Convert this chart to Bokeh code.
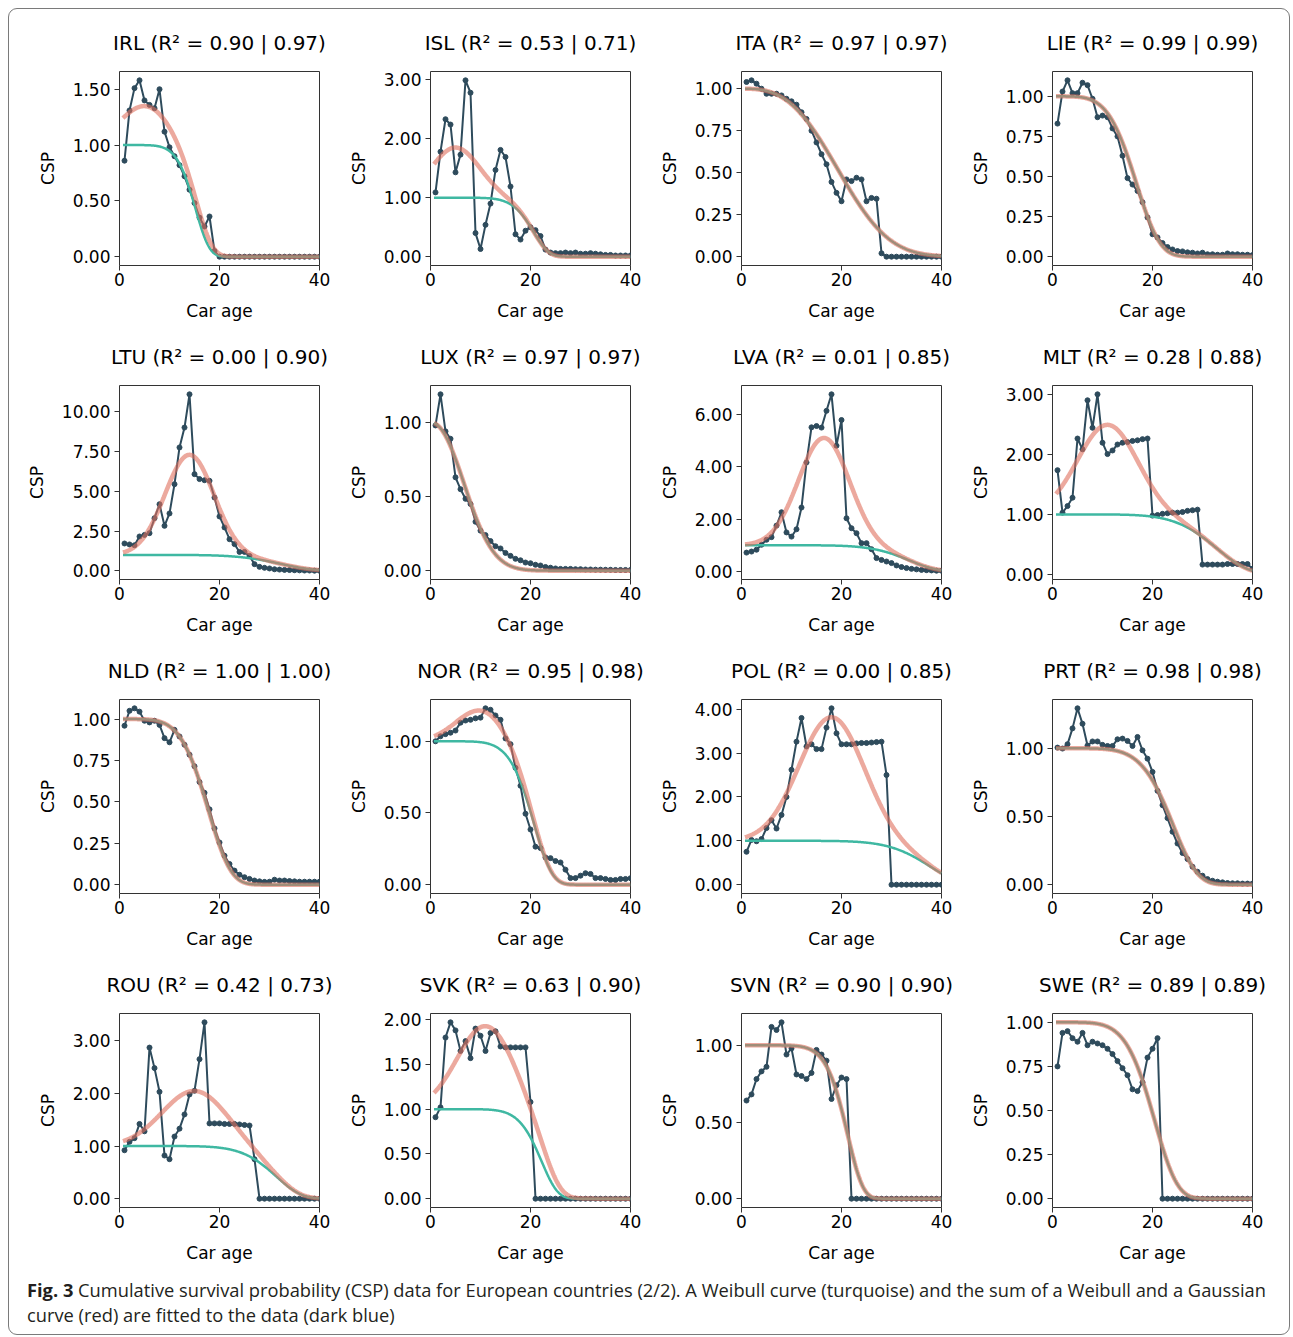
import numpy as np
from bokeh.plotting import figure
from bokeh.layouts import gridplot, column
from bokeh.models import Range1d, FixedTicker, NumeralTickFormatter, Div
from bokeh.embed import file_html
from bokeh.resources import INLINE

# ---------------- data ----------------
ages = [1, 2, 3, 4, 5, 6, 7, 8, 9, 10, 11, 12, 13, 14, 15, 16, 17, 18, 19, 20,
        21, 22, 23, 24, 25, 26, 27, 28, 29, 30, 31, 32, 33, 34, 35, 36, 37, 38, 39, 40]

countries = ["IRL", "ISL", "ITA", "LIE", "LTU", "LUX", "LVA", "MLT",
             "NLD", "NOR", "POL", "PRT", "ROU", "SVK", "SVN", "SWE"]
r2_weibull = [0.90, 0.53, 0.97, 0.99, 0.00, 0.97, 0.01, 0.28,
              1.00, 0.95, 0.00, 0.98, 0.42, 0.63, 0.90, 0.89]
r2_sum = [0.97, 0.71, 0.97, 0.99, 0.90, 0.97, 0.85, 0.88,
          1.00, 0.98, 0.85, 0.98, 0.73, 0.90, 0.90, 0.89]

csp_irl = [0.86, 1.31, 1.51, 1.58, 1.40, 1.36, 1.33, 1.50, 1.12, 0.98, 0.90, 0.82, 0.72, 0.60, 0.48, 0.35, 0.27, 0.36, 0.05, 0.00,
           0.00, 0.00, 0.00, 0.00, 0.00, 0.00, 0.00, 0.00, 0.00, 0.00, 0.00, 0.00, 0.00, 0.00, 0.00, 0.00, 0.00, 0.00, 0.00, 0.00]
csp_isl = [1.09, 1.78, 2.33, 2.24, 1.43, 1.73, 2.99, 2.78, 0.40, 0.13, 0.54, 0.90, 1.47, 1.81, 1.69, 1.19, 0.38, 0.29, 0.44, 0.50,
           0.45, 0.35, 0.12, 0.07, 0.06, 0.06, 0.07, 0.06, 0.07, 0.05, 0.05, 0.06, 0.05, 0.04, 0.03, 0.03, 0.02, 0.02, 0.02, 0.02]
csp_ita = [1.04, 1.05, 1.03, 1.00, 0.97, 0.97, 0.97, 0.96, 0.94, 0.925, 0.905, 0.86, 0.82, 0.75, 0.68, 0.61, 0.55, 0.445, 0.38, 0.33,
           0.46, 0.45, 0.47, 0.46, 0.33, 0.35, 0.345, 0.02, 0.00, 0.00, 0.00, 0.00, 0.00, 0.00, 0.00, 0.00, 0.00, 0.00, 0.00, 0.00]
csp_lie = [0.83, 1.03, 1.10, 1.02, 1.02, 1.085, 1.07, 0.985, 0.87, 0.88, 0.87, 0.80, 0.75, 0.63, 0.49, 0.45, 0.41, 0.34, 0.245, 0.14,
           0.12, 0.085, 0.06, 0.045, 0.035, 0.033, 0.027, 0.025, 0.02, 0.025, 0.015, 0.015, 0.012, 0.012, 0.02, 0.015, 0.015, 0.012, 0.012, 0.01]
csp_ltu = [1.72, 1.66, 1.61, 2.16, 2.26, 2.37, 3.31, 4.19, 2.83, 3.61, 5.45, 7.76, 9.01, 11.10, 6.08, 5.77, 5.70, 5.66, 4.61, 3.42,
           2.73, 1.99, 1.68, 1.19, 1.19, 0.94, 0.42, 0.25, 0.19, 0.15, 0.10, 0.08, 0.06, 0.05, 0.04, 0.03, 0.02, 0.02, 0.01, 0.01]
csp_lux = [0.98, 1.19, 0.94, 0.89, 0.63, 0.55, 0.485, 0.45, 0.33, 0.27, 0.24, 0.20, 0.165, 0.15, 0.12, 0.10, 0.08, 0.07, 0.055, 0.05,
           0.04, 0.035, 0.025, 0.02, 0.015, 0.012, 0.012, 0.012, 0.01, 0.01, 0.008, 0.008, 0.007, 0.007, 0.006, 0.006, 0.005, 0.005, 0.005, 0.005]
csp_lva = [0.72, 0.76, 0.83, 1.02, 1.21, 1.31, 1.75, 2.26, 1.49, 1.33, 1.61, 2.44, 4.16, 5.50, 5.55, 5.49, 6.13, 6.76, 4.80, 5.78,
           2.03, 1.65, 1.46, 1.08, 1.08, 0.85, 0.51, 0.44, 0.38, 0.32, 0.23, 0.17, 0.13, 0.10, 0.08, 0.06, 0.05, 0.04, 0.03, 0.03]
csp_mlt = [1.74, 1.03, 1.14, 1.28, 2.27, 2.09, 2.91, 2.45, 3.01, 2.20, 2.01, 2.07, 2.17, 2.20, 2.21, 2.23, 2.24, 2.26, 2.27, 0.98,
           0.99, 1.01, 1.02, 1.03, 1.03, 1.04, 1.06, 1.07, 1.08, 0.16, 0.16, 0.16, 0.16, 0.16, 0.17, 0.17, 0.17, 0.17, 0.17, 0.09]
csp_nld = [0.96, 1.05, 1.065, 1.045, 0.99, 0.98, 0.99, 0.965, 0.885, 0.86, 0.935, 0.895, 0.845, 0.785, 0.715, 0.62, 0.555, 0.455, 0.34, 0.255,
           0.175, 0.125, 0.085, 0.06, 0.045, 0.035, 0.025, 0.02, 0.017, 0.018, 0.03, 0.025, 0.025, 0.022, 0.02, 0.018, 0.018, 0.018, 0.018, 0.018]
csp_nor = [1.00, 1.035, 1.05, 1.06, 1.075, 1.13, 1.145, 1.15, 1.16, 1.165, 1.23, 1.22, 1.18, 1.15, 1.02, 0.98, 0.815, 0.69, 0.495, 0.385,
           0.265, 0.255, 0.19, 0.185, 0.165, 0.155, 0.105, 0.046, 0.046, 0.063, 0.08, 0.075, 0.046, 0.046, 0.04, 0.033, 0.033, 0.04, 0.04, 0.045]
csp_pol = [0.75, 1.02, 0.99, 1.04, 1.29, 1.47, 1.28, 1.59, 2.00, 2.62, 3.26, 3.80, 3.15, 3.20, 3.09, 3.09, 3.58, 4.02, 3.45, 3.20,
           3.20, 3.20, 3.22, 3.23, 3.23, 3.24, 3.25, 3.26, 2.50, 0.00, 0.00, 0.00, 0.00, 0.00, 0.00, 0.00, 0.00, 0.00, 0.00, 0.00]
csp_prt = [1.005, 0.998, 1.03, 1.146, 1.293, 1.18, 1.02, 1.05, 1.05, 1.025, 1.017, 1.017, 1.066, 1.071, 1.054, 1.017, 1.083, 0.985, 0.924, 0.827,
           0.688, 0.583, 0.488, 0.388, 0.302, 0.232, 0.188, 0.132, 0.095, 0.066, 0.041, 0.029, 0.022, 0.017, 0.012, 0.01, 0.01, 0.008, 0.008, 0.008]
csp_rou = [0.92, 1.08, 1.15, 1.42, 1.28, 2.87, 2.48, 2.03, 0.82, 0.75, 1.18, 1.33, 1.60, 1.98, 2.05, 2.65, 3.35, 1.43, 1.43, 1.43,
           1.42, 1.42, 1.42, 1.41, 1.40, 1.39, 0.75, 0.00, 0.00, 0.00, 0.00, 0.00, 0.00, 0.00, 0.00, 0.00, 0.00, 0.00, 0.00, 0.00]
csp_svk = [0.91, 1.02, 1.80, 1.97, 1.88, 1.65, 1.76, 1.57, 1.90, 1.82, 1.65, 1.85, 1.87, 1.70, 1.69, 1.69, 1.69, 1.69, 1.69, 1.08,
           0.00, 0.00, 0.00, 0.00, 0.00, 0.00, 0.00, 0.00, 0.00, 0.00, 0.00, 0.00, 0.00, 0.00, 0.00, 0.00, 0.00, 0.00, 0.00, 0.00]
csp_svn = [0.64, 0.68, 0.78, 0.83, 0.86, 1.12, 1.10, 1.15, 0.94, 0.98, 0.81, 0.80, 0.78, 0.82, 0.97, 0.94, 0.90, 0.65, 0.74, 0.79,
           0.78, 0.00, 0.00, 0.00, 0.00, 0.00, 0.00, 0.00, 0.00, 0.00, 0.00, 0.00, 0.00, 0.00, 0.00, 0.00, 0.00, 0.00, 0.00, 0.00]
csp_swe = [0.75, 0.94, 0.95, 0.91, 0.89, 0.94, 0.87, 0.89, 0.88, 0.87, 0.85, 0.82, 0.78, 0.74, 0.70, 0.62, 0.61, 0.66, 0.80, 0.85,
           0.91, 0.00, 0.00, 0.00, 0.00, 0.00, 0.00, 0.00, 0.00, 0.00, 0.00, 0.00, 0.00, 0.00, 0.00, 0.00, 0.00, 0.00, 0.00, 0.00]

csp = [csp_irl, csp_isl, csp_ita, csp_lie, csp_ltu, csp_lux, csp_lva, csp_mlt,
       csp_nld, csp_nor, csp_pol, csp_prt, csp_rou, csp_svk, csp_svn, csp_swe]

# fitted parameters (Weibull alone; Weibull + Gaussian)
weib_k = [6.5, 7.85, 2.9, 4.6, 6.0, 2.15, 7.1, 6.2, 5.0, 6.75, 7.35, 6.0, 7.3, 7.9, 8.0, 5.6]
weib_lam = [15.6, 21.0, 22.3, 17.7, 33.3, 9.0, 34.3, 33.8, 18.6, 21.2, 38.4, 24.9, 32.0, 22.6, 21.6, 21.2]
sum_k = [6.0, 7.85, 2.9, 4.6, 6.0, 2.15, 7.1, 6.2, 5.0, 6.75, 7.35, 6.0, 7.3, 7.9, 8.0, 5.6]
sum_lam = [16.0, 21.0, 22.3, 17.7, 33.3, 9.0, 34.3, 33.8, 18.6, 21.2, 38.4, 24.9, 32.0, 23.3, 21.6, 21.2]
gauss_amp = [0.35, 0.85, 0.0, 0.0, 6.3, 0.0, 4.1, 1.5, 0.0, 0.22, 2.82, 0.0, 1.05, 0.93, 0.0, 0.0]
gauss_mu = [5.0, 5.0, 10.0, 10.0, 14.0, 10.0, 16.5, 11.0, 10.0, 10.0, 18.0, 10.0, 15.0, 11.0, 10.0, 10.0]
gauss_sigma = [5.0, 4.8, 5.0, 5.0, 4.9, 5.0, 5.1, 6.0, 5.0, 4.9, 6.5, 5.0, 6.5, 5.7, 5.0, 5.0]

y_ticks = [[0, 0.5, 1.0, 1.5], [0, 1, 2, 3], [0, 0.25, 0.5, 0.75, 1.0], [0, 0.25, 0.5, 0.75, 1.0],
           [0, 2.5, 5.0, 7.5, 10.0], [0, 0.5, 1.0], [0, 2, 4, 6], [0, 1, 2, 3],
           [0, 0.25, 0.5, 0.75, 1.0], [0, 0.5, 1.0], [0, 1, 2, 3, 4], [0, 0.5, 1.0],
           [0, 1, 2, 3], [0, 0.5, 1.0, 1.5, 2.0], [0, 0.5, 1.0], [0, 0.25, 0.5, 0.75, 1.0]]
x_ticks = [0, 20, 40]

# ---------------- styling ----------------
DARK = "#2e4b5c"
TURQ = "#3fb8a2"
RED = "#e0705e"
FONT = "DejaVu Sans"

t = np.linspace(0.7, 40, 300)


def make_panel(i):
    y = csp[i]
    w = np.exp(-(t / weib_lam[i]) ** weib_k[i])
    r = np.exp(-(t / sum_lam[i]) ** sum_k[i]) + gauss_amp[i] * np.exp(
        -((t - gauss_mu[i]) ** 2) / (2 * gauss_sigma[i] ** 2))
    lo = min(min(y), w.min(), r.min())
    hi = max(max(y), w.max(), r.max())
    pad = 0.05 * (hi - lo)
    p = figure(frame_width=200, frame_height=194,
               min_border_left=96, min_border_right=15,
               min_border_top=60, min_border_bottom=60,
               x_range=Range1d(0, 40), y_range=Range1d(lo - pad, hi + pad),
               output_backend="svg", toolbar_location=None)
    p.title.text = f"{countries[i]} (R\u00b2 = {r2_weibull[i]:.2f} | {r2_sum[i]:.2f})"
    p.title.align = "center"
    p.title.text_font = FONT
    p.title.text_font_size = "20px"
    p.title.text_font_style = "normal"
    p.title.text_color = "#000000"
    p.title.standoff = 33
    p.grid.visible = False
    p.outline_line_color = "#333333"
    p.outline_line_width = 1
    p.background_fill_color = "white"
    p.border_fill_color = "white"

    p.line(ages, y, color=DARK, line_width=2)
    p.scatter(ages, y, size=5, color=DARK)
    p.line(t, w, color=TURQ, line_width=2.5)
    p.line(t, r, color=RED, line_width=4.5, line_alpha=0.6)

    for ax in (p.xaxis[0], p.yaxis[0]):
        ax.axis_line_color = None
        ax.major_tick_line_color = "#333333"
        ax.major_tick_out = 5
        ax.major_tick_in = 0
        ax.minor_tick_line_color = None
        ax.major_label_text_font = FONT
        ax.major_label_text_font_size = "17px"
        ax.major_label_text_color = "#000000"
        ax.axis_label_text_font = FONT
        ax.axis_label_text_font_size = "17px"
        ax.axis_label_text_font_style = "normal"
        ax.axis_label_text_color = "#000000"

    p.xaxis.ticker = FixedTicker(ticks=x_ticks)
    p.xaxis.formatter = NumeralTickFormatter(format="0")
    p.xaxis.axis_label = "Car age"
    p.xaxis.major_label_standoff = 2
    p.xaxis.axis_label_standoff = 12

    p.yaxis.ticker = FixedTicker(ticks=y_ticks[i])
    p.yaxis.formatter = NumeralTickFormatter(format="0.00")
    p.yaxis.axis_label = "CSP"
    p.yaxis.major_label_standoff = 4
    p.yaxis.axis_label_standoff = 12
    return p


figs = [make_panel(i) for i in range(16)]
grid = gridplot(figs, ncols=4, toolbar_location=None)
grid.margin = (2, 0, 0, 14)

caption = Div(
    text='<b>Fig. 3</b> Cumulative survival probability (CSP) data for European countries (2/2). '
         'A Weibull curve (turquoise) and the sum of a Weibull and a Gaussian<br>'
         'curve (red) are fitted to the data (dark blue)',
    width=1262,
    styles={"font-family": "Open Sans", "font-size": "18.3px", "line-height": "25px", "color": "#231f20",
            "white-space": "nowrap"},
    margin=(10, 0, 0, 18))

page = column(grid, caption, width=1282, height=1327,
              styles={"border": "1px solid #7a7a7a", "border-radius": "9px", "background": "white"},
              margin=(8, 0, 0, 8))

open("out.html", "w").write(file_html(page, INLINE))
